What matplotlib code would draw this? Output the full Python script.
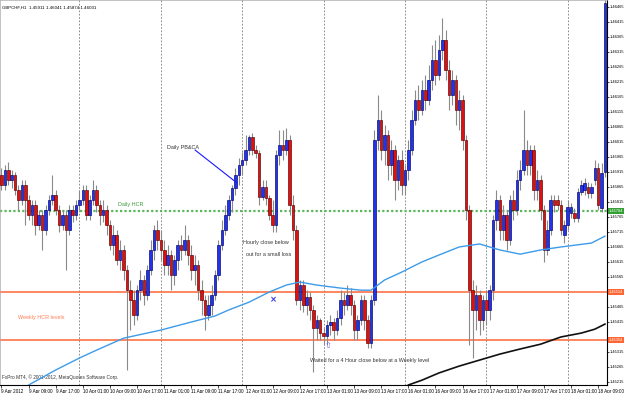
import matplotlib
matplotlib.use('Agg')
import matplotlib.pyplot as plt
import numpy as np

title = "GBPCHF,H1  1.45911 1.46041 1.45874 1.46031"
copyright_txt = "FxPro MT4, \u00a9 2001-2012, MetaQuotes Software Corp."

open_ = [1.45904,1.45870,1.45920,1.45887,1.45904,1.45854,1.45820,1.45870,1.45820,1.45770,
 1.45804,1.45737,1.45770,1.45720,1.45787,1.45820,1.45837,1.45787,1.45737,1.45770,
 1.45720,1.45787,1.45770,1.45804,1.45820,1.45854,1.45770,1.45820,1.45854,1.45804,
 1.45770,1.45787,1.45737,1.45670,1.45704,1.45620,1.45654,1.45587,1.45520,1.45487,
 1.45437,1.45520,1.45554,1.45504,1.45587,1.45654,1.45720,1.45687,1.45654,1.45604,
 1.45637,1.45570,1.45620,1.45670,1.45654,1.45687,1.45637,1.45587,1.45604,1.45520,
 1.45487,1.45437,1.45470,1.45504,1.45570,1.45670,1.45720,1.45770,1.45820,1.45860,
 1.45904,1.45937,1.45954,1.45987,1.46030,1.45987,1.45977,1.45830,1.45864,1.45827,
 1.45770,1.45737,1.45970,1.46004,1.45987,1.46020,1.45804,1.45720,1.45487,1.45537,
 1.45470,1.45497,1.45454,1.45394,1.45420,1.45377,1.45367,1.45404,1.45414,1.45387,
 1.45427,1.45487,1.45470,1.45504,1.45470,1.45387,1.45420,1.45487,1.45420,1.45344,
 1.45487,1.46020,1.46087,1.45987,1.46037,1.45937,1.45987,1.45887,1.45954,1.45870,
 1.45920,1.45987,1.46087,1.46154,1.46120,1.46187,1.46154,1.46220,1.46287,1.46237,
 1.46320,1.46354,1.46254,1.46170,1.46220,1.46120,1.46154,1.46020,1.45787,1.45520,
 1.45454,1.45504,1.45420,1.45487,1.45454,1.45520,1.45754,1.45820,1.45720,1.45770,
 1.45687,1.45820,1.45787,1.45887,1.45920,1.45987,1.45937,1.45987,1.45854,1.45887,
 1.45787,1.45654,1.45720,1.45820,1.45820,1.45804,1.45704,1.45737,1.45777,1.45777,
 1.45760,1.45847,1.45854,1.45864,1.45844,1.45887,1.45927,1.45794,1.45914]
high = [1.45927,1.45937,1.45947,1.45920,1.45914,1.45870,1.45887,1.45887,1.45837,1.45820,
 1.45820,1.45787,1.45787,1.45804,1.45837,1.45904,1.45854,1.45804,1.45787,1.45787,
 1.45804,1.45804,1.45820,1.45854,1.45870,1.45870,1.45837,1.45887,1.45870,1.45820,
 1.45820,1.45804,1.45754,1.45737,1.45720,1.45687,1.45670,1.45604,1.45554,1.45520,
 1.45537,1.45587,1.45570,1.45604,1.45687,1.45737,1.45754,1.45720,1.45687,1.45670,
 1.45654,1.45637,1.45687,1.45704,1.45737,1.45704,1.45670,1.45637,1.45620,1.45554,
 1.45504,1.45504,1.45537,1.45587,1.45687,1.45754,1.45804,1.45837,1.45870,1.45927,
 1.45960,1.45980,1.46037,1.46037,1.46044,1.46004,1.45987,1.45887,1.45887,1.45837,
 1.45820,1.45987,1.46054,1.46054,1.46060,1.46037,1.45837,1.45737,1.45554,1.45554,
 1.45520,1.45514,1.45470,1.45437,1.45427,1.45394,1.45420,1.45437,1.45427,1.45454,
 1.45520,1.45514,1.45537,1.45527,1.45487,1.45437,1.45504,1.45504,1.45437,1.45504,
 1.46054,1.46170,1.46120,1.46070,1.46054,1.46020,1.46004,1.45970,1.45987,1.45937,
 1.46020,1.46120,1.46187,1.46204,1.46220,1.46237,1.46270,1.46337,1.46354,1.46370,
 1.46427,1.46387,1.46287,1.46254,1.46237,1.46187,1.46170,1.46037,1.45804,1.45554,
 1.45537,1.45520,1.45504,1.45520,1.45537,1.45770,1.45854,1.45837,1.45804,1.45787,
 1.45837,1.45854,1.45920,1.45954,1.46120,1.46020,1.46004,1.46004,1.45920,1.45904,
 1.45804,1.45754,1.45837,1.45837,1.45837,1.45820,1.45754,1.45820,1.45810,1.45794,
 1.45860,1.45887,1.45894,1.45880,1.45877,1.45954,1.45944,1.45944,1.46487]
low = [1.45854,1.45854,1.45870,1.45860,1.45837,1.45787,1.45804,1.45737,1.45754,1.45737,
 1.45704,1.45720,1.45654,1.45704,1.45770,1.45804,1.45770,1.45714,1.45720,1.45587,
 1.45704,1.45747,1.45754,1.45787,1.45804,1.45754,1.45754,1.45804,1.45780,1.45737,
 1.45747,1.45704,1.45654,1.45637,1.45604,1.45587,1.45554,1.45254,1.45387,1.45404,
 1.45420,1.45487,1.45470,1.45487,1.45570,1.45620,1.45654,1.45620,1.45570,1.45570,
 1.45520,1.45537,1.45587,1.45620,1.45637,1.45604,1.45554,1.45537,1.45487,1.45437,
 1.45387,1.45420,1.45437,1.45487,1.45554,1.45654,1.45704,1.45754,1.45780,1.45837,
 1.45870,1.45904,1.45937,1.45970,1.45970,1.45960,1.45804,1.45820,1.45804,1.45754,
 1.45714,1.45714,1.45937,1.45954,1.45970,1.45770,1.45687,1.45470,1.45454,1.45447,
 1.45437,1.45420,1.45247,1.45354,1.45354,1.45337,1.45337,1.45370,1.45354,1.45370,
 1.45404,1.45437,1.45454,1.45437,1.45354,1.45354,1.45404,1.45387,1.45327,1.45327,
 1.45470,1.45987,1.45954,1.45937,1.45887,1.45904,1.45820,1.45854,1.45837,1.45837,
 1.45887,1.45970,1.46070,1.46087,1.46104,1.46120,1.46137,1.46187,1.46204,1.46220,
 1.46287,1.46220,1.46120,1.46137,1.46070,1.46054,1.45987,1.45754,1.45337,1.45294,
 1.45387,1.45370,1.45387,1.45404,1.45420,1.45487,1.45720,1.45687,1.45687,1.45654,
 1.45670,1.45754,1.45770,1.45854,1.45904,1.45904,1.45904,1.45820,1.45820,1.45754,
 1.45614,1.45637,1.45704,1.45780,1.45787,1.45704,1.45677,1.45720,1.45760,1.45747,
 1.45747,1.45837,1.45837,1.45827,1.45827,1.45870,1.45787,1.45780,1.45897]
close = [1.45870,1.45920,1.45887,1.45904,1.45854,1.45820,1.45870,1.45820,1.45770,1.45804,
 1.45737,1.45770,1.45720,1.45787,1.45820,1.45837,1.45787,1.45737,1.45770,1.45720,
 1.45787,1.45770,1.45804,1.45820,1.45854,1.45770,1.45820,1.45854,1.45804,1.45770,
 1.45787,1.45737,1.45670,1.45704,1.45620,1.45654,1.45587,1.45520,1.45487,1.45437,
 1.45520,1.45554,1.45504,1.45587,1.45654,1.45720,1.45687,1.45654,1.45604,1.45637,
 1.45570,1.45620,1.45670,1.45654,1.45687,1.45637,1.45587,1.45604,1.45520,1.45487,
 1.45437,1.45470,1.45504,1.45570,1.45670,1.45720,1.45770,1.45820,1.45860,1.45904,
 1.45937,1.45954,1.45987,1.46030,1.45987,1.45977,1.45830,1.45864,1.45827,1.45770,
 1.45737,1.45970,1.46004,1.45987,1.46020,1.45804,1.45720,1.45487,1.45537,1.45470,
 1.45497,1.45454,1.45394,1.45420,1.45377,1.45367,1.45404,1.45414,1.45387,1.45427,
 1.45487,1.45470,1.45504,1.45470,1.45387,1.45420,1.45487,1.45420,1.45344,1.45487,
 1.46020,1.46087,1.45987,1.46037,1.45937,1.45987,1.45887,1.45954,1.45870,1.45920,
 1.45987,1.46087,1.46154,1.46120,1.46187,1.46154,1.46220,1.46287,1.46237,1.46320,
 1.46354,1.46254,1.46170,1.46220,1.46120,1.46154,1.46020,1.45787,1.45520,1.45454,
 1.45504,1.45420,1.45487,1.45454,1.45520,1.45754,1.45820,1.45720,1.45770,1.45687,
 1.45820,1.45787,1.45887,1.45920,1.45987,1.45937,1.45987,1.45854,1.45887,1.45787,
 1.45654,1.45720,1.45820,1.45804,1.45804,1.45720,1.45737,1.45797,1.45797,1.45760,
 1.45847,1.45870,1.45877,1.45844,1.45864,1.45927,1.45804,1.45910,1.46477]

ma_blue_bar = [8,16,23,28,36,47,56,63,67,73,79,84,88,93,100,106,109,113,118,124,129,135,141,147,153,159,165,174,178]
ma_blue = [1.45204,1.45254,1.45294,1.45320,1.45360,1.45387,1.45414,1.45434,1.45454,1.45480,
 1.45514,1.45537,1.45547,1.45537,1.45527,1.45520,1.45520,1.45554,1.45580,1.45614,
 1.45637,1.45664,1.45674,1.45654,1.45640,1.45654,1.45664,1.45677,1.45700]
ma_black_bar = [120,124,129,135,141,147,153,159,165,171,175,178]
ma_black = [1.45204,1.45220,1.45244,1.45267,1.45287,1.45307,1.45324,1.45340,1.45364,1.45377,1.45390,1.45407]

daily_hcr = 1.45784
weekly_hcr = [1.45514, 1.45354]
day_separators = [23, 47, 71, 95, 119, 143, 167]
date_ticks = list(range(0, 177, 8))
date_labels = ["9 Apr 2012", "9 Apr 09:00", "9 Apr 17:00", "10 Apr 01:00", "10 Apr 09:00",
 "10 Apr 17:00", "11 Apr 01:00", "11 Apr 09:00", "11 Apr 17:00", "12 Apr 01:00",
 "12 Apr 09:00", "12 Apr 17:00", "13 Apr 01:00", "13 Apr 09:00", "13 Apr 17:00",
 "16 Apr 01:00", "16 Apr 09:00", "16 Apr 17:00", "17 Apr 01:00", "17 Apr 09:00",
 "17 Apr 17:00", "18 Apr 01:00", "18 Apr 09:00"]
price_ticks = [round(1.45215 + 0.0005 * k, 5) for k in range(26)]

plt.rcParams['font.family'] = ['Liberation Sans', 'DejaVu Sans']

fig = plt.figure(figsize=(6.25, 3.93), dpi=100)
fig.patch.set_facecolor('white')
ax = fig.add_axes([0, 8/393, 607/625, 385/393])
ax.set_xlim(-0.44, 178.6)
ax.set_ylim(1.45204, 1.46487)

o = np.array(open_); h = np.array(high); l = np.array(low); c = np.array(close)
bars = np.arange(len(o))
up = c >= o
ax.vlines(bars, l, h, color='#8a8a8a', lw=0.8, zorder=2)
bh = np.maximum(np.abs(c - o), 0.00002)
bot = np.minimum(o, c)
ax.bar(bars[up], bh[up], bottom=bot[up], width=0.76, color='#2233ee',
       edgecolor='#000066', linewidth=0.45, zorder=3)
ax.bar(bars[~up], bh[~up], bottom=bot[~up], width=0.76, color='#e01010',
       edgecolor='#550000', linewidth=0.45, zorder=3)

ax.plot(ma_blue_bar, ma_blue, color='#3d9be9', lw=1.0, zorder=4)
ax.plot(ma_black_bar, ma_black, color='#111111', lw=1.2, zorder=4)

for d in day_separators:
    ax.axvline(d, color='#777777', lw=0.6, ls=(0, (2, 2)), zorder=1)

ax.axhline(daily_hcr, color='#5cb85c', lw=1.6, ls=(0, (1, 1)), zorder=1.5)
for w in weekly_hcr:
    ax.axhline(w, color='#ff6633', lw=1.1, zorder=1.5)

# right price axis (labels hidden where a level box sits)
boxed = [daily_hcr] + weekly_hcr
ax.yaxis.tick_right()
ax.set_yticks(price_ticks)
ax.set_yticklabels(["" if min(abs(p - b) for b in boxed) < 0.00018 else f"{p:.5f}"
                    for p in price_ticks])
ax.tick_params(axis='y', labelsize=2.9, length=1.5, width=0.5, pad=0.5, colors='black')
ax.set_xticks(date_ticks)
ax.set_xticklabels(date_labels)
for t in ax.get_xticklabels():
    t.set_ha('left')
ax.tick_params(axis='x', labelsize=3.3, length=2, width=0.5, pad=1)

for s in ['right', 'bottom']:
    ax.spines[s].set_color('#000000'); ax.spines[s].set_linewidth(0.8)
for s in ['top', 'left']:
    ax.spines[s].set_color('#aaaaaa'); ax.spines[s].set_linewidth(0.5)

ytr = ax.get_yaxis_transform()
ax.text(1.003, daily_hcr, f"{daily_hcr:.5f}", transform=ytr, fontsize=2.9, color='white',
        va='center', ha='left', clip_on=False,
        bbox=dict(boxstyle='square,pad=0.2', fc='#33a033', ec='none'))
for w in weekly_hcr:
    ax.text(1.003, w, f"{w:.5f}", transform=ytr, fontsize=2.9, color='white',
            va='center', ha='left', clip_on=False,
            bbox=dict(boxstyle='square,pad=0.2', fc='#ff6633', ec='none'))

# texts
ax.text(0.004, 0.985, title, transform=ax.transAxes, fontsize=3.2, va='top', ha='left', color='black')
ax.text(0.004, 0.012, copyright_txt, transform=ax.transAxes, fontsize=3.4, va='bottom', ha='left', color='#333333')
ax.text(48.8, 1.45994, "Daily PB&CA", fontsize=3.9, color='#333333', va='center', ha='left')
ax.plot([57.1, 69.5], [1.45987, 1.45877], color='#1a1aff', lw=0.8, zorder=5)
ax.text(34.4, 1.45804, "Daily HCR", fontsize=3.9, color='#3a9a3a', va='center', ha='left')
ax.text(71.2, 1.45680, "Hourly close below", fontsize=3.9, color='#333333', va='center', ha='left')
ax.text(72.1, 1.45640, "out for a small loss", fontsize=3.9, color='#333333', va='center', ha='left')
ax.text(4.9, 1.45430, "Weekly HCR levels", fontsize=3.9, color='#ff7f50', va='center', ha='left')
ax.text(91.0, 1.45287, "Waited for a 4 Hour close below at a Weekly level", fontsize=3.9,
        color='#333333', va='center', ha='left')
ax.text(80.1, 1.45487, "\u00d7", fontsize=6, color='#3030e0', va='center', ha='center',
        family='DejaVu Sans', fontweight='bold')
ax.text(96.3, 1.45337, "\u21e7", fontsize=6, color='#6a6af0', va='center', ha='center',
        family='DejaVu Sans')

fig.savefig('out.png', dpi=100, facecolor='white')
